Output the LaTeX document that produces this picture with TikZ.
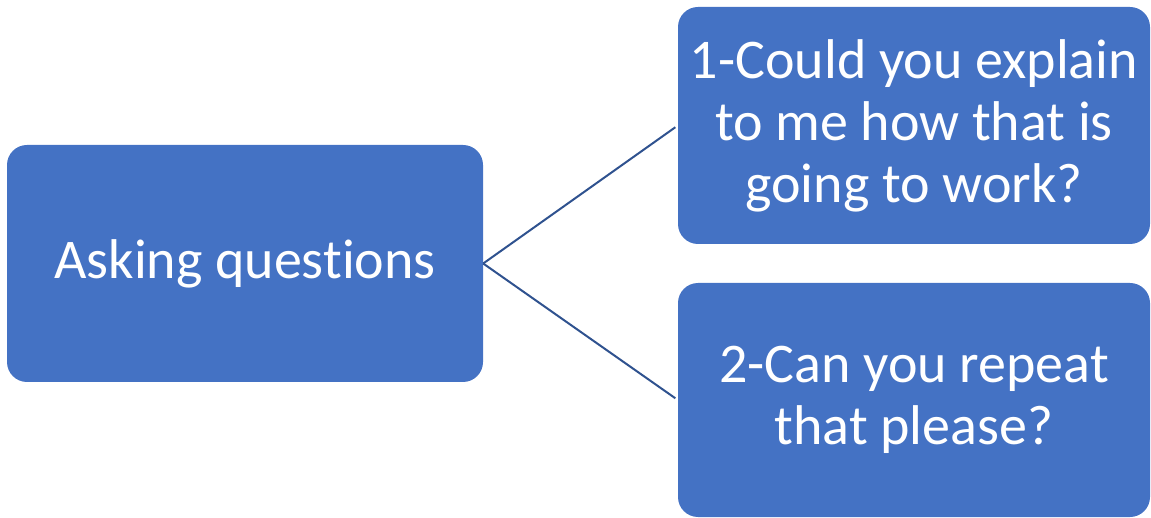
\documentclass[tikz,border=0pt]{standalone}
\usepackage{fontspec}
\setmainfont[Ligatures={NoCommon}]{Carlito}
\definecolor{boxblue}{HTML}{4472C4}
\definecolor{lineblue}{HTML}{2F528F}
\begin{document}
\begin{tikzpicture}[x=1pt,y=-1pt,
  box/.style={fill=boxblue,draw=none,rounded corners=20pt,text=white,align=center,inner sep=0pt,
    font=\fontsize{56}{62}\selectfont},
  conn/.style={draw=lineblue,line width=2pt,shorten >=3pt}]
\useasboundingbox (0,0) rectangle (1151,518);
\node[box,minimum width=476pt,minimum height=237pt] (ask) at (245,263.5) {Asking questions};
\node[box,minimum width=472pt,minimum height=237pt] (q1) at (914,125.5) {1-Could you explain\\to me how that is\\going to work?};
\node[box,minimum width=472pt,minimum height=234pt] (q2) at (914,400) {2-Can you repeat\\that please?};
\draw[conn] (ask.east) -- (q1.west);
\draw[conn] (ask.east) -- (q2.west);
\end{tikzpicture}
\end{document}
